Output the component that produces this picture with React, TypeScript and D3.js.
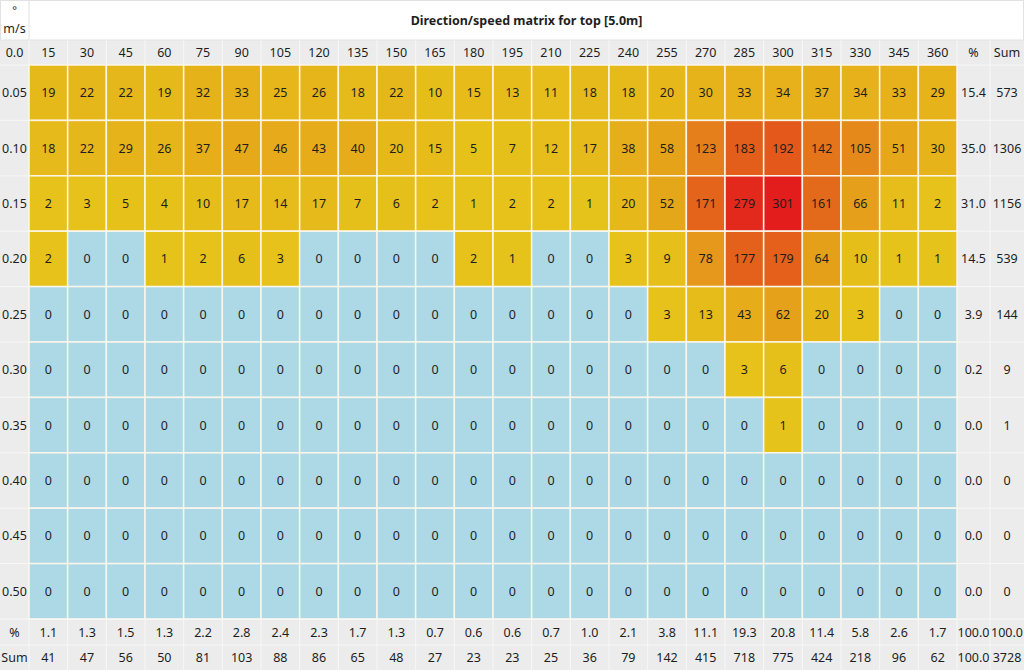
import { useEffect } from 'react'
import * as d3 from 'd3'

const directions = [15, 30, 45, 60, 75, 90, 105, 120, 135, 150, 165, 180, 195, 210, 225, 240, 255, 270, 285, 300, 315, 330, 345, 360]
const speeds = ['0.05', '0.10', '0.15', '0.20', '0.25', '0.30', '0.35', '0.40', '0.45', '0.50']

// counts per speed row, one value per direction
const counts: number[][] = [
  [19, 22, 22, 19, 32, 33, 25, 26, 18, 22, 10, 15, 13, 11, 18, 18, 20, 30, 33, 34, 37, 34, 33, 29],
  [18, 22, 29, 26, 37, 47, 46, 43, 40, 20, 15, 5, 7, 12, 17, 38, 58, 123, 183, 192, 142, 105, 51, 30],
  [2, 3, 5, 4, 10, 17, 14, 17, 7, 6, 2, 1, 2, 2, 1, 20, 52, 171, 279, 301, 161, 66, 11, 2],
  [2, 0, 0, 1, 2, 6, 3, 0, 0, 0, 0, 2, 1, 0, 0, 3, 9, 78, 177, 179, 64, 10, 1, 1],
  [0, 0, 0, 0, 0, 0, 0, 0, 0, 0, 0, 0, 0, 0, 0, 0, 3, 13, 43, 62, 20, 3, 0, 0],
  [0, 0, 0, 0, 0, 0, 0, 0, 0, 0, 0, 0, 0, 0, 0, 0, 0, 0, 3, 6, 0, 0, 0, 0],
  [0, 0, 0, 0, 0, 0, 0, 0, 0, 0, 0, 0, 0, 0, 0, 0, 0, 0, 0, 1, 0, 0, 0, 0],
  [0, 0, 0, 0, 0, 0, 0, 0, 0, 0, 0, 0, 0, 0, 0, 0, 0, 0, 0, 0, 0, 0, 0, 0],
  [0, 0, 0, 0, 0, 0, 0, 0, 0, 0, 0, 0, 0, 0, 0, 0, 0, 0, 0, 0, 0, 0, 0, 0],
  [0, 0, 0, 0, 0, 0, 0, 0, 0, 0, 0, 0, 0, 0, 0, 0, 0, 0, 0, 0, 0, 0, 0, 0],
]
const rowPct = ['15.4', '35.0', '31.0', '14.5', '3.9', '0.2', '0.0', '0.0', '0.0', '0.0']
const rowSum = ['573', '1306', '1156', '539', '144', '9', '1', '0', '0', '0']
const colPct = ['1.1', '1.3', '1.5', '1.3', '2.2', '2.8', '2.4', '2.3', '1.7', '1.3', '0.7', '0.6', '0.6', '0.7', '1.0', '2.1', '3.8', '11.1', '19.3', '20.8', '11.4', '5.8', '2.6', '1.7']
const colSum = ['41', '47', '56', '50', '81', '103', '88', '86', '65', '48', '27', '23', '23', '25', '36', '79', '142', '415', '718', '775', '424', '218', '96', '62']
const totalPct = ['100.0', '100.0']
const totalSum = ['100.0', '3728']

const W = 1024
const H = 670
const FONT = '"Noto Sans", "Open Sans", sans-serif'
const GRAY = '#ececec'
const LINE = '#f7f7f7'
const TXT = '#1e1e1e'

export default function App() {
  useEffect(() => {
    document.body.style.margin = '0'
  }, [])

  const x = d3.scaleBand<number>().domain(directions).range([29, 957])
  const y = d3.scaleBand<string>().domain(speeds).range([65, 619])
  const color = d3.scaleLinear<string>().domain([1, 301]).range(['#e6c31a', '#e31c1c']).interpolate(d3.interpolateRgb)

  const pctX = [957, 990]
  const sumX = [990, 1024]
  const headY = [40, 65]
  const pctRowY = [619, 645]
  const sumRowY = [645, 670]
  const cw = x.bandwidth()
  const ch = y.bandwidth()

  const txt = (tx: number, ty: number, s: string, key: string, extra: any = {}) => (
    <text key={key} x={tx} y={ty} textAnchor="middle" dominantBaseline="central" fontSize={12.5} fill={TXT} {...extra}>
      {s}
    </text>
  )

  return (
    <svg width={W} height={H} style={{ display: 'block', fontFamily: FONT }}>
      <rect x={0} y={0} width={W} height={H} fill={GRAY} />
      {/* title row */}
      <rect x={0.5} y={0.5} width={W - 1} height={headY[0] - 0.5} fill="#fff" stroke="#e2e2e2" />
      <line x1={29} x2={29} y1={0} y2={headY[0]} stroke="#e2e2e2" />
      {txt(14.5, 9, '°', 'deg', { fontSize: 11 })}
      {txt(14.5, 28, 'm/s', 'ms')}
      {txt((29 + W) / 2, 20, 'Direction/speed matrix for top [5.0m]', 'title', { fontWeight: 'bold', fontSize: 12.5 })}

      {/* header row */}
      {txt(14.5, (headY[0] + headY[1]) / 2, '0.0', 'h0')}
      {directions.map((d) => (
        <g key={'h' + d}>
          <line x1={x(d)!} x2={x(d)!} y1={headY[0]} y2={headY[1]} stroke={LINE} />
          {txt(x(d)! + cw / 2, (headY[0] + headY[1]) / 2, String(d), 't')}
        </g>
      ))}
      <line x1={pctX[0]} x2={pctX[0]} y1={headY[0]} y2={H} stroke={LINE} />
      <line x1={sumX[0]} x2={sumX[0]} y1={headY[0]} y2={H} stroke={LINE} />
      {txt((pctX[0] + pctX[1]) / 2, (headY[0] + headY[1]) / 2, '%', 'hp')}
      {txt((sumX[0] + sumX[1]) / 2, (headY[0] + headY[1]) / 2, 'Sum', 'hs')}

      {/* matrix */}
      {speeds.map((s, i) => (
        <g key={s}>
          <line x1={0} x2={29} y1={y(s)!} y2={y(s)!} stroke={LINE} />
          {txt(14.5, y(s)! + ch / 2, s, 'l')}
          {directions.map((d, j) => {
            const v = counts[i][j]
            return (
              <g key={d}>
                <rect
                  x={x(d)!}
                  y={y(s)!}
                  width={cw}
                  height={ch}
                  fill={v === 0 ? '#add8e6' : color(v)}
                  stroke="#fbf6ea"
                  strokeWidth={1.5}
                />
                {txt(x(d)! + cw / 2, y(s)! + ch / 2, String(v), 'v')}
              </g>
            )
          })}
          <line x1={pctX[0]} x2={W} y1={y(s)!} y2={y(s)!} stroke={LINE} />
          {txt((pctX[0] + pctX[1]) / 2, y(s)! + ch / 2, rowPct[i], 'p')}
          {txt((sumX[0] + sumX[1]) / 2, y(s)! + ch / 2, rowSum[i], 'q')}
        </g>
      ))}

      {/* bottom summary rows */}
      <line x1={0} x2={W} y1={pctRowY[0]} y2={pctRowY[0]} stroke={LINE} />
      <line x1={0} x2={W} y1={sumRowY[0]} y2={sumRowY[0]} stroke={LINE} />
      {txt(14.5, (pctRowY[0] + pctRowY[1]) / 2, '%', 'bp')}
      {txt(14.5, (sumRowY[0] + sumRowY[1]) / 2, 'Sum', 'bs')}
      {directions.map((d, j) => (
        <g key={'b' + d}>
          <line x1={x(d)!} x2={x(d)!} y1={pctRowY[0]} y2={H} stroke={LINE} />
          {txt(x(d)! + cw / 2, (pctRowY[0] + pctRowY[1]) / 2, colPct[j], 'a')}
          {txt(x(d)! + cw / 2, (sumRowY[0] + sumRowY[1]) / 2, colSum[j], 'b')}
        </g>
      ))}
      {txt((pctX[0] + pctX[1]) / 2, (pctRowY[0] + pctRowY[1]) / 2, totalPct[0], 'tp0')}
      {txt((sumX[0] + sumX[1]) / 2, (pctRowY[0] + pctRowY[1]) / 2, totalPct[1], 'tp1')}
      {txt((pctX[0] + pctX[1]) / 2, (sumRowY[0] + sumRowY[1]) / 2, totalSum[0], 'ts0')}
      {txt((sumX[0] + sumX[1]) / 2, (sumRowY[0] + sumRowY[1]) / 2, totalSum[1], 'ts1')}
    </svg>
  )
}
